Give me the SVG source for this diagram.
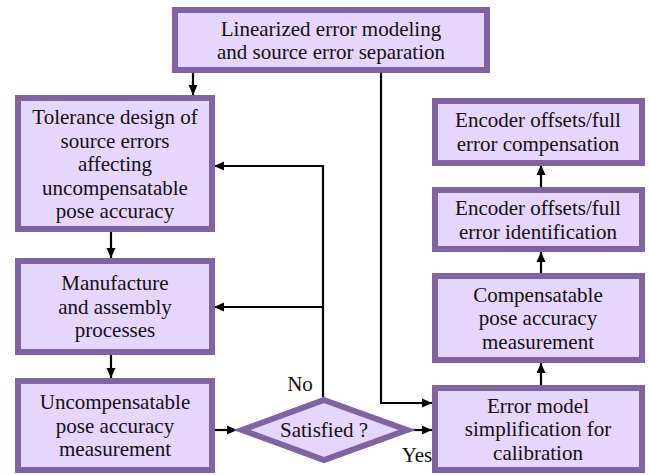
<svg xmlns="http://www.w3.org/2000/svg" width="650" height="475" viewBox="0 0 650 475">
<defs>
<marker id="ah" viewBox="0 0 10 10" refX="10" refY="5" markerWidth="10" markerHeight="10" markerUnits="userSpaceOnUse" orient="auto">
<path d="M0,0.5 L10,5 L0,9.5 Z" fill="#000"/>
</marker>
</defs>
<rect width="650" height="475" fill="#fff"/>
<g id="connectors" fill="none" stroke="#000" stroke-width="2.2">
<path d="M193,73 V95" marker-end="url(#ah)"/>
<path d="M381,73 V403 H432" marker-end="url(#ah)"/>
<path d="M111,232 V258" marker-end="url(#ah)"/>
<path d="M111,355 V378" marker-end="url(#ah)"/>
<path d="M214,430 H237" marker-end="url(#ah)"/>
<path d="M412,430 H432" marker-end="url(#ah)"/>
<path d="M323,397 V166 H214" marker-end="url(#ah)"/>
<path d="M323,307 H214" marker-end="url(#ah)"/>
<path d="M541,385 V363" marker-end="url(#ah)"/>
<path d="M541,273 V252" marker-end="url(#ah)"/>
<path d="M541,187 V165" marker-end="url(#ah)"/>
</g>
<g id="nodes" fill="#E6D5FD" stroke="#8064A2" stroke-width="6">
<rect id="n-top" x="175" y="10" width="312" height="60"/>
<rect id="n-tolerance" x="18" y="98" width="194" height="131"/>
<rect id="n-manufacture" x="18" y="261" width="194" height="91"/>
<rect id="n-uncomp" x="18" y="381" width="194" height="89"/>
<polygon id="n-satisfied" points="324,400 407,430 324,460 242,430"/>
<rect id="n-enc-comp" x="435" y="101" width="207" height="62"/>
<rect id="n-enc-ident" x="435" y="190" width="207" height="59"/>
<rect id="n-compensatable" x="435" y="276" width="207" height="84"/>
<rect id="n-errmodel" x="435" y="388" width="207" height="82"/>
</g>
<g id="texts" font-family="Liberation Serif, Times New Roman, DejaVu Serif, serif" font-size="21" fill="#111" text-anchor="middle">
<text x="300" y="391">No</text>
<text x="417" y="462">Yes</text>
<text x="331" y="36">Linearized error modeling</text>
<text x="331" y="59">and source error separation</text>
<text x="115" y="124">Tolerance design of</text>
<text x="115" y="147.5">source errors</text>
<text x="115" y="171">affecting</text>
<text x="115" y="194.5">uncompensatable</text>
<text x="115" y="218">pose accuracy</text>
<text x="115" y="290">Manufacture</text>
<text x="115" y="313.5">and assembly</text>
<text x="115" y="337">processes</text>
<text x="115" y="409">Uncompensatable</text>
<text x="115" y="432.5">pose accuracy</text>
<text x="115" y="456">measurement</text>
<text x="324" y="437">Satisfied ?</text>
<text x="538" y="127">Encoder offsets/full</text>
<text x="538" y="150.5">error compensation</text>
<text x="538" y="215">Encoder offsets/full</text>
<text x="538" y="238.5">error identification</text>
<text x="538" y="301.5">Compensatable</text>
<text x="538" y="325">pose accuracy</text>
<text x="538" y="348.5">measurement</text>
<text x="538" y="412.5">Error model</text>
<text x="538" y="436">simplification for</text>
<text x="538" y="459.5">calibration</text>
</g>
</svg>
